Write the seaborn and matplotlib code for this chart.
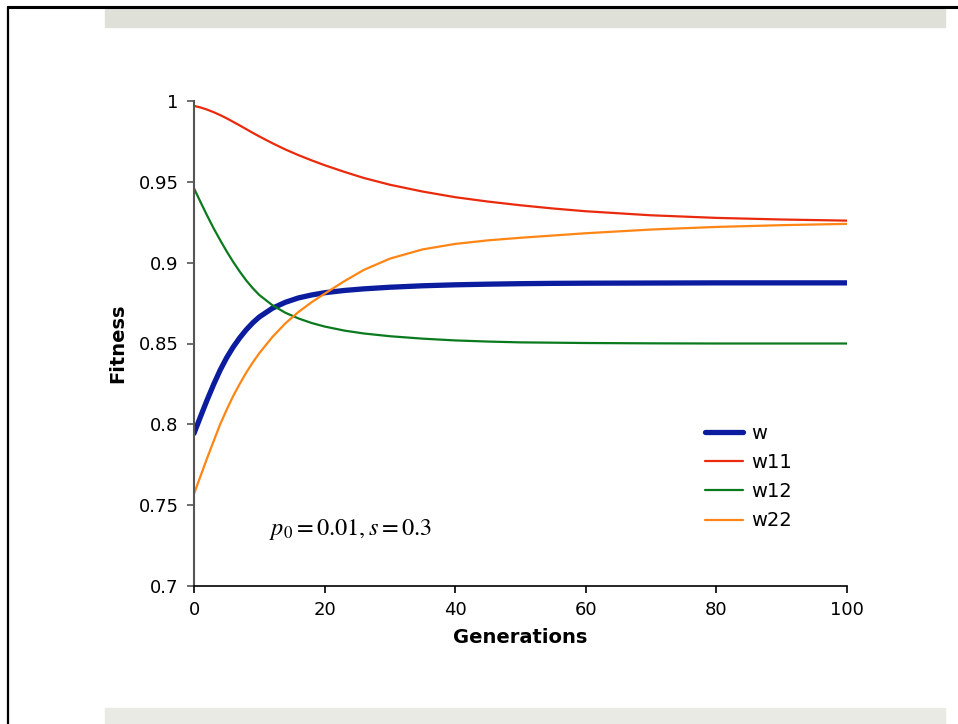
import numpy as np
import pandas as pd
import matplotlib
matplotlib.use("Agg")
import matplotlib.pyplot as plt
import seaborn as sns
from matplotlib.patches import Rectangle
from matplotlib.lines import Line2D

# values
gens = [0, 1, 2, 3, 4, 5, 6, 7, 8, 9, 10, 12, 14, 16, 18, 20, 23, 26, 30, 35,
        40, 45, 50, 55, 60, 70, 80, 90, 100]
w = [0.7944, 0.8048, 0.8150, 0.8246, 0.8335, 0.8412, 0.8478, 0.8535, 0.8585, 0.8628,
     0.8664, 0.8718, 0.8755, 0.8782, 0.8800, 0.8814, 0.8828, 0.8838, 0.8848, 0.8857,
     0.8863, 0.8867, 0.8870, 0.8872, 0.8873, 0.8874, 0.8875, 0.8875, 0.8875]
w11 = [0.9970, 0.9960, 0.9947, 0.9931, 0.9913, 0.9893, 0.9871, 0.9849, 0.9826, 0.9803,
       0.9781, 0.9739, 0.9700, 0.9665, 0.9633, 0.9603, 0.9562, 0.9524, 0.9482, 0.9440,
       0.9405, 0.9378, 0.9355, 0.9335, 0.9318, 0.9293, 0.9277, 0.9267, 0.9260]
w12 = [0.9460, 0.9375, 0.9292, 0.9213, 0.9140, 0.9070, 0.9005, 0.8945, 0.8890, 0.8842,
       0.8800, 0.8737, 0.8690, 0.8655, 0.8627, 0.8605, 0.8580, 0.8562, 0.8545, 0.8530,
       0.8519, 0.8512, 0.8507, 0.8505, 0.8503, 0.8501, 0.8500, 0.8500, 0.8500]
w22 = [0.7570, 0.7680, 0.7790, 0.7895, 0.8000, 0.8090, 0.8175, 0.8250, 0.8320, 0.8383,
       0.8440, 0.8540, 0.8625, 0.8695, 0.8755, 0.8808, 0.8885, 0.8955, 0.9025, 0.9082,
       0.9116, 0.9138, 0.9154, 0.9168, 0.9182, 0.9205, 0.9221, 0.9232, 0.9240]

series = ["w", "w11", "w12", "w22"]
colors = {"w": "#0b1d9e", "w11": "#ea2a0c", "w12": "#0b7a1e", "w22": "#ff8514"}
widths = {"w": 3.8, "w11": 1.6, "w12": 1.6, "w22": 1.6}

df = pd.DataFrame({"gen": gens, "w": w, "w11": w11, "w12": w12, "w22": w22})
long = df.melt(id_vars="gen", var_name="series", value_name="fitness")

sns.set_style("ticks")
plt.rcParams["font.family"] = ["DejaVu Sans"]
plt.rcParams["text.color"] = "black"
plt.rcParams["axes.labelcolor"] = "black"
plt.rcParams["xtick.labelcolor"] = "black"
plt.rcParams["ytick.labelcolor"] = "black"

fig = plt.figure(figsize=(9.58, 7.24), dpi=100)
ax = fig.add_axes([194 / 958, 1 - 586 / 724, (847 - 194) / 958, (586 - 101) / 724])

for name in series:
    sub = long[long["series"] == name]
    sns.lineplot(data=sub, x="gen", y="fitness", ax=ax, color=colors[name],
                 linewidth=widths[name], label=name)

ax.set_xlim(0, 100)
ax.set_ylim(0.7, 1.0)
ax.set_xticks([0, 20, 40, 60, 80, 100])
yt = [0.7, 0.75, 0.8, 0.85, 0.9, 0.95, 1.0]
ax.set_yticks(yt)
ax.set_yticklabels(["0.7", "0.75", "0.8", "0.85", "0.9", "0.95", "1"])
ax.tick_params(axis="both", labelsize=13, length=5, width=1.2, direction="out", pad=6,
               labelcolor="black")
ax.tick_params(axis="y", color="#555555")
ax.tick_params(axis="x", color="black")
ax.set_xlabel("Generations", fontsize=14, fontweight="bold", labelpad=6, color="black")
ax.set_ylabel("Fitness", fontsize=14, fontweight="bold", labelpad=8, color="black")

sns.despine(ax=ax)
ax.spines["left"].set_color("#555555")
ax.spines["left"].set_linewidth(1.5)
ax.spines["bottom"].set_color("black")
ax.spines["bottom"].set_linewidth(1.2)

leg = ax.legend(loc="upper left", bbox_to_anchor=(0.77, 0.35), frameon=False,
                fontsize=14, handlelength=2.0, handletextpad=0.4, labelspacing=0.52,
                borderaxespad=0)
for t in leg.get_texts():
    t.set_color("black")

ax.text(0.115, 0.117, r"$p_0 = 0.01, s = 0.3$", transform=ax.transAxes,
        fontsize=17.5, math_fontfamily="stix", va="center", color="black")

# page frame and grey bands
fig.add_artist(Line2D([8 / 958, 1.0], [1 - 7 / 724, 1 - 7 / 724], color="black",
                      linewidth=2.2, transform=fig.transFigure))
fig.add_artist(Line2D([8 / 958, 8 / 958], [0, 1 - 7 / 724], color="black",
                      linewidth=1.6, transform=fig.transFigure))
fig.add_artist(Rectangle((105 / 958, 1 - 27 / 724), 840 / 958, 18 / 724,
                         color="#dfe0d8", transform=fig.transFigure, zorder=0))
fig.add_artist(Rectangle((105 / 958, 0), 840 / 958, 16 / 724,
                         color="#e9eae4", transform=fig.transFigure, zorder=0))

fig.savefig("out.png", dpi=100)
